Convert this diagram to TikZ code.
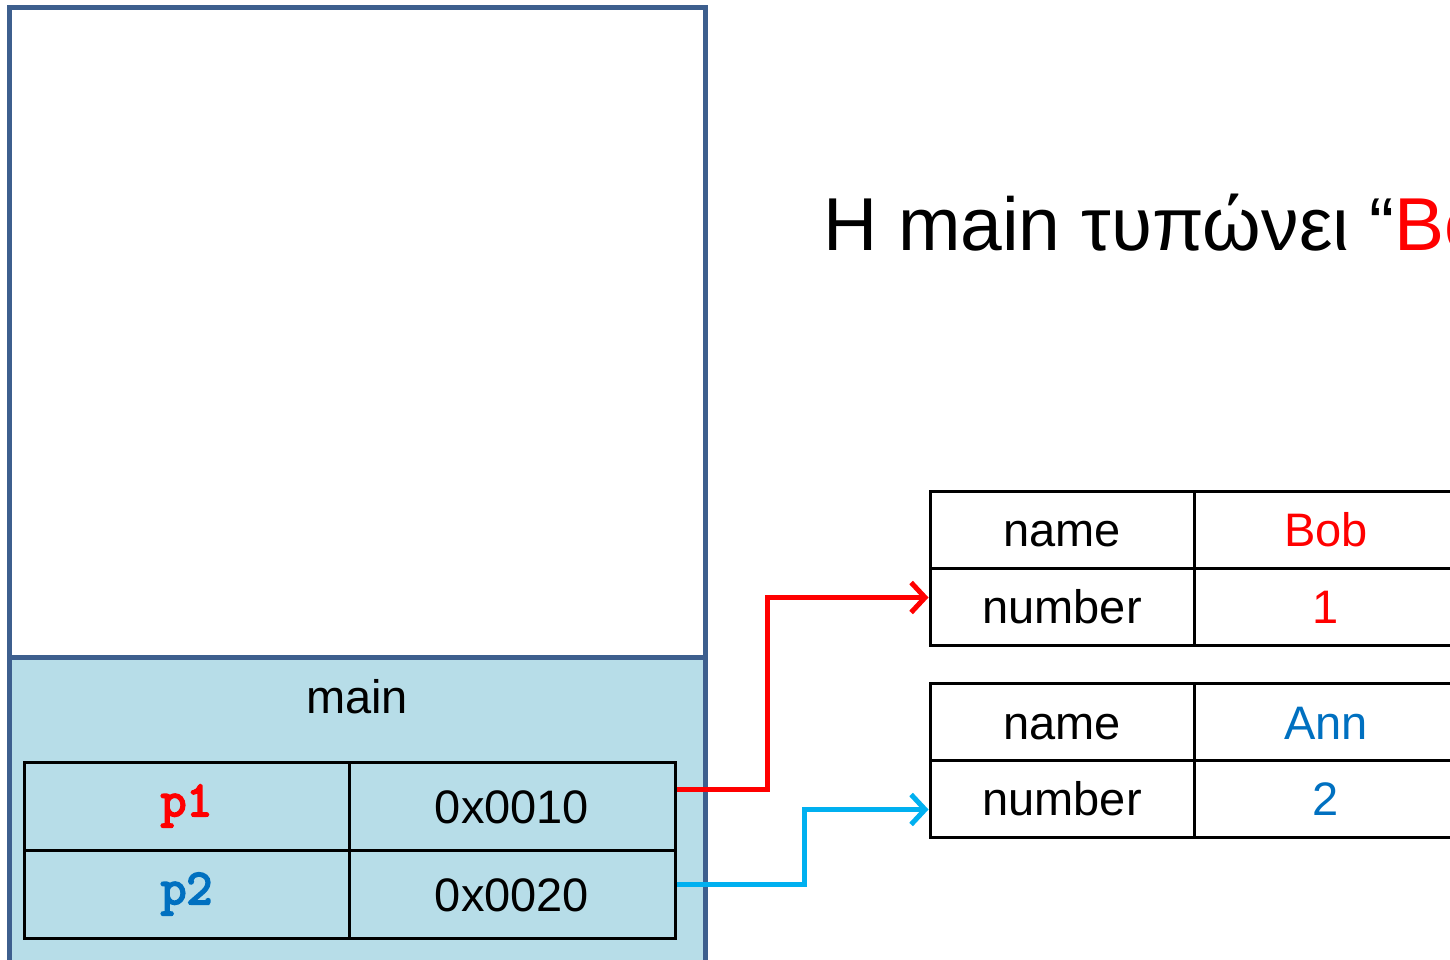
\documentclass[tikz,border=0pt]{standalone}
\usepackage{fontspec}
\setmainfont{Liberation Sans}
\newfontfamily\codefont{Latin Modern Mono}[FakeBold=4]
\usetikzlibrary{arrows.meta}

\definecolor{stackedge}{HTML}{3D5F8E}
\definecolor{framefill}{HTML}{B7DDE8}
\definecolor{ptrred}{HTML}{FF0000}
\definecolor{valblue}{HTML}{0070C0}
\definecolor{ptrblue}{HTML}{00B0F0}

\tikzset{
  cell/.style={draw=black, line width=3pt, rectangle, inner sep=0pt,
    font=\fontsize{47}{56}\selectfont},
  textcell/.style={cell, text height=34pt, text depth=0pt},
  varcell/.style={cell, font=\fontsize{50}{60}\selectfont\codefont},
  ptr/.style={line width=5pt, -{Straight Barb[length=14pt, width=30pt, line width=5pt]}},
}

\begin{document}
\begin{tikzpicture}[x=1pt, y=-1pt]
  \useasboundingbox (0,0) rectangle (1450,960);
  \clip (0,0) rectangle (1450,960);

  % call stack: empty area above, frame of main below
  \fill[white] (9.5,7.5) rectangle (705,975);
  \fill[framefill] (9.5,657) rectangle (705,975);
  \draw[stackedge, line width=5pt] (9.5,975) -- (9.5,7.5) -- (705,7.5) -- (705,975);
  \draw[stackedge, line width=5pt] (9.5,657) -- (705,657);
  \node[font=\fontsize{47}{56}\selectfont, anchor=base] (frame) at (357,713) {main};

  % local pointer variables of main
  \node[varcell, minimum width=325pt, minimum height=88pt, text=ptrred]  (p1)  at (186.5,806) {p1};
  \node[textcell, minimum width=326pt, minimum height=88pt]              (a1)  at (512,806)   {0x0010};
  \node[varcell, minimum width=325pt, minimum height=88pt, text=valblue] (p2)  at (186.5,894) {p2};
  \node[textcell, minimum width=326pt, minimum height=88pt]              (a2)  at (512,894)   {0x0020};

  % heading
  \node[anchor=base west, inner sep=0pt, font=\fontsize{75}{90}\selectfont] (title) at (823,250)
    {Η main τυπώνει “\textcolor{ptrred}{Bob}”};

  % first record on the heap
  \node[textcell, minimum width=264pt, minimum height=77pt]                 (k1a) at (1062,529.5) {name};
  \node[textcell, minimum width=264pt, minimum height=77pt, text=ptrred]    (v1a) at (1326,529.5) {Bob};
  \node[textcell, minimum width=264pt, minimum height=77pt]                 (k1b) at (1062,606.5) {number};
  \node[textcell, minimum width=264pt, minimum height=77pt, text=ptrred]    (v1b) at (1326,606.5) {1};

  % second record on the heap
  \node[textcell, minimum width=264pt, minimum height=77pt]                 (k2a) at (1062,722) {name};
  \node[textcell, minimum width=264pt, minimum height=77pt, text=valblue]   (v2a) at (1326,722) {Ann};
  \node[textcell, minimum width=264pt, minimum height=77pt]                 (k2b) at (1062,798.5) {number};
  \node[textcell, minimum width=264pt, minimum height=77pt, text=valblue]   (v2b) at (1326,798.5) {2};

  % pointers
  \draw[ptr, ptrred]  ([yshift=17pt]a1.east) -- ++(91,0) |- ([yshift=9pt]k1b.west);
  \draw[ptr, ptrblue] ([yshift=10pt]a2.east) -- ++(128,0) |- ([yshift=-11pt]k2b.west);
\end{tikzpicture}
\end{document}
